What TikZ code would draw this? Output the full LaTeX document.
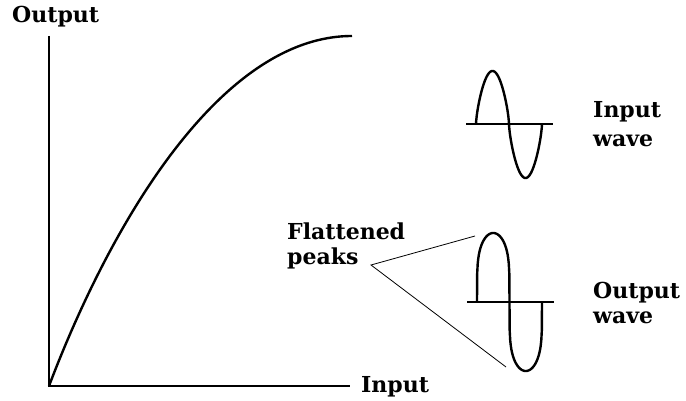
\documentclass[tikz,border=0pt]{standalone}
\usepackage{fontspec}
\setmainfont{DejaVu Serif}
\usepackage{tikz}
\usetikzlibrary{positioning,calc}
\definecolor{inkline}{HTML}{000000}

\begin{document}
\begin{tikzpicture}[x=1pt,y=-1pt,
    lbl/.style={font=\bfseries\fontsize{22}{25}\selectfont,inner sep=0pt,anchor=base west,align=left},
    thinline/.style={inkline,line width=1.1pt},
    wave/.style={inkline,line width=2.4pt,line join=round}]
  \useasboundingbox (0,0) rectangle (686,401);
  % axes and transfer curve
  \coordinate (O) at (49,386);
  \coordinate (ytop) at (49,36);
  \coordinate (xend) at (350,386);
  \draw[thinline] (ytop) -- (O) -- (xend);
  \node[lbl] (ylab) at (12,23) {Output};
  \node[lbl] (xlab) at (361,392) {Input};
  \draw[wave] (O) .. controls (110,225) and (220,36) .. (352,36);
  % input wave
  \coordinate (ina) at (466,124);
  \coordinate (inb) at (553,124);
  \draw[thinline] (ina) -- (inb);
  \draw[wave] (476,124)
    -- plot[domain=1:179,samples=60] ({476+\x/360*66},{124-53*pow(sin(\x),0.7)})
    -- plot[domain=181:359,samples=60] ({476+\x/360*66},{124+54*pow(-sin(\x),0.7)})
    -- (542,124);
  \node[lbl] (inlab) at (593,147) {Input\\[4pt]wave};
  % output wave
  \coordinate (outa) at (467,302);
  \coordinate (outb) at (554,302);
  \draw[thinline] (outa) -- (outb);
  \draw[wave] (477,302)
    -- plot[domain=1:179,samples=60] ({477+\x/360*65},{302-69*pow(sin(\x),0.22)})
    -- plot[domain=181:359,samples=60] ({477+\x/360*65},{302+69*pow(-sin(\x),0.22)})
    -- (542,302);
  \node[lbl] (outlab) at (593,323) {Output\\wave};
  % flattened peaks
  \node[lbl] (peaks) at (287,265) {Flattened\\peaks};
  \coordinate (pk) at (371,265);
  \coordinate (ftop) at (475,236);
  \coordinate (fbot) at (506,367);
  \draw[inkline,line width=0.8pt] (ftop) -- (pk) -- (fbot);
\end{tikzpicture}
\end{document}
